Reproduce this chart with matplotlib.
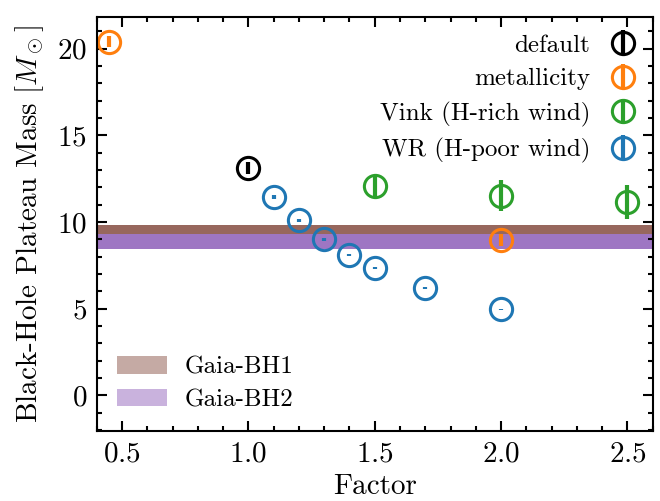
import matplotlib
matplotlib.use("Agg")
from matplotlib import pyplot as plt
from matplotlib.patches import Patch

plt.rcParams["font.family"] = "serif"
plt.rcParams["font.serif"] = ["cmr10"]
plt.rcParams["mathtext.fontset"] = "cm"
plt.rcParams["axes.formatter.use_mathtext"] = True

# data
default_x = [1.0]
default_y = [13.1]
default_err = [0.35]

metal_x = [0.45, 2.0]
metal_y = [20.4, 8.95]
metal_err = [0.32, 0.35]

vink_x = [1.5, 2.0, 2.5]
vink_y = [12.08, 11.53, 11.16]
vink_err = [0.65, 0.9, 0.97]

wr_x = [1.1, 1.2, 1.3, 1.4, 1.5, 1.7, 2.0]
wr_y = [11.45, 10.1, 9.01, 8.12, 7.37, 6.2, 4.97]
wr_err = [0.12, 0.1, 0.08, 0.06, 0.05, 0.03, 0.02]

gaia_labels = ["Gaia-BH1", "Gaia-BH2"]
gaia_low = [9.3, 8.45]
gaia_high = [9.83, 9.3]
gaia_colors = ["tab:brown", "tab:purple"]

fig = plt.figure(figsize=(6.6, 5.01), dpi=100)
ax = fig.add_axes([0.1465, 0.1397, 0.8425, 0.827])

for lo, hi, c in zip(gaia_low, gaia_high, gaia_colors):
    ax.axhspan(lo, hi, color=c, alpha=0.9, lw=0)

style = dict(fmt="o", mfc="none", ms=16, mew=2.2, elinewidth=3, capsize=0)
h1 = ax.errorbar(default_x, default_y, yerr=default_err, color="black", label="default", **style)
h2 = ax.errorbar(metal_x, metal_y, yerr=metal_err, color="tab:orange", label="metallicity", **style)
h3 = ax.errorbar(vink_x, vink_y, yerr=vink_err, color="tab:green", label="Vink (H-rich wind)", **style)
h4 = ax.errorbar(wr_x, wr_y, yerr=wr_err, color="tab:blue", label="WR (H-poor wind)", **style)

ax.set_xlim(0.4, 2.6)
ax.set_ylim(-2.05, 21.85)
ax.set_xticks([0.5, 1.0, 1.5, 2.0, 2.5])
ax.set_yticks([0, 5, 10, 15, 20])
ax.minorticks_on()
ax.tick_params(which="both", direction="in", top=True, right=True, width=1.5, labelsize=21)
ax.tick_params(which="major", length=7, pad=7)
ax.tick_params(which="minor", length=3.5)
for s in ax.spines.values():
    s.set_linewidth(1.5)

ax.set_xlabel("Factor", fontsize=21, labelpad=5)
ax.set_ylabel(r"Black-Hole Plateau Mass $[M_\odot]$", fontsize=21, labelpad=8)

leg1 = ax.legend(handles=[h1, h2, h3, h4], loc="upper right", frameon=False,
                 markerfirst=False, fontsize=18, handlelength=1.0, borderaxespad=0.3,
                 labelspacing=0.45, handletextpad=0.8)
ax.add_artist(leg1)

patches = [Patch(color=c, alpha=0.5, lw=0) for c in gaia_colors]
ax.legend(patches, gaia_labels, loc="lower left", frameon=False, fontsize=18,
          handlelength=2.0, handletextpad=0.7, borderaxespad=0.4, labelspacing=0.4)

fig.savefig("out.png", dpi=100)
